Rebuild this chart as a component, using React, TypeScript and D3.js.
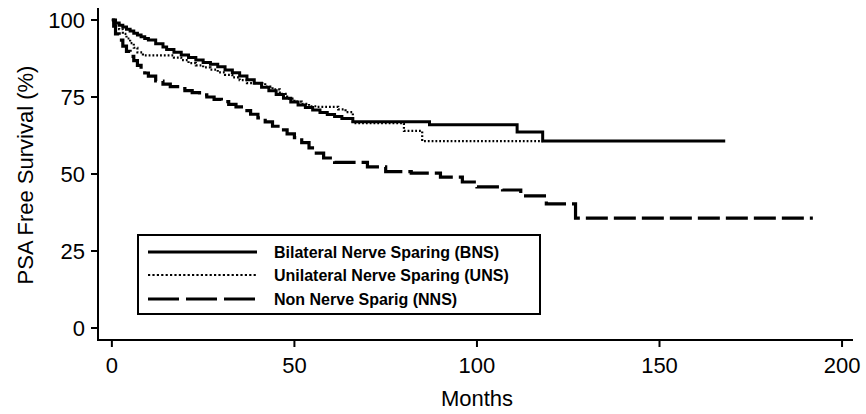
import React from 'react';
import * as d3 from 'd3';

// Kaplan-Meier step points (months, % free)
const bnsMonths = [0, 1, 2, 3, 4, 5, 6, 7, 8, 9, 10, 12, 14, 15, 17, 19, 21, 23, 25, 27, 29, 31, 33, 35, 37, 39, 41, 43, 45, 47, 49, 51, 53, 55, 57, 59, 61, 63, 66, 87, 111, 118];
const bnsValues = [100, 99, 98.3, 97.7, 97, 96.4, 95.7, 95.1, 94.6, 94, 93.5, 92.3, 91.2, 90.4, 89.5, 88.6, 87.8, 87, 86.2, 85.6, 84.8, 83.8, 82.9, 81.8, 80.6, 79.5, 78.2, 77, 75.8, 74.6, 73.4, 72.4, 71.6, 70.8, 70, 69.3, 68.7, 68, 67, 66, 63.6, 60.7];
const bnsEnd = 168;

const unsMonths = [0, 1, 2, 3, 4, 5, 6, 7, 8.5, 17, 19, 21, 23, 25, 27, 29, 31, 33, 35, 37, 42, 44, 46, 48, 50, 52, 54, 56, 62, 64, 66, 80, 85];
const unsValues = [100, 98.5, 97, 95.5, 94, 92.5, 91, 89.5, 88.5, 87.8, 87, 86, 85.3, 84.6, 83.9, 83, 82.2, 81.4, 80.5, 79.5, 78.4, 77.5, 76, 74.5, 73.5, 72.8, 72, 71.8, 71, 70.1, 66.5, 64, 60.7];
const unsEnd = 118;

const nnsMonths = [0, 0.5, 1, 2, 3, 4, 5, 6, 7, 8, 9, 10, 12, 14, 16, 18, 20, 22, 24, 26, 28, 30, 32, 34, 36, 38, 40, 42, 44, 46, 48, 50, 52, 54, 56, 58, 61, 70, 75, 82, 90, 96, 100, 107, 112, 119, 127];
const nnsValues = [100, 98, 95.5, 93.5, 91.5, 89.8, 88.2, 86.8, 85.3, 84, 82.8, 81.8, 80.2, 79.2, 78.4, 77.7, 77.1, 76.4, 75.7, 75, 74.2, 73.5, 72.6, 71.8, 70.6, 69.4, 68.2, 66.9, 65.5, 64.3, 63, 61.8, 60.2, 58.5, 56.8, 55.2, 53.8, 52.3, 50.8, 50.3, 49, 47.4, 45.8, 44.8, 42.9, 40.3, 35.7];
const nnsEnd = 192;

const xTicks = [0, 50, 100, 150, 200];
const yTicks = [0, 25, 50, 75, 100];

const legendLabels = ['Bilateral Nerve Sparing (BNS)', 'Unilateral Nerve Sparing (UNS)', 'Non Nerve Sparig (NNS)'];

const font = '"Liberation Sans", Arial, Helvetica, sans-serif';

const styles = [
  { width: 3, dash: null, legendDash: null },
  { width: 2.2, dash: '1.8 2', legendDash: '2.2 2.2' },
  { width: 3.2, dash: '22 6', legendDash: '31 7' },
];

export default function App() {
  const width = 866;
  const height = 414;

  const x = d3.scaleLinear().domain([-3.8, 203]).range([98, 853]);
  const y = d3.scaleLinear().domain([-3.9, 103.9]).range([340, 8]);

  const line = d3.line<[number, number]>()
    .x(d => x(d[0]))
    .y(d => y(d[1]))
    .curve(d3.curveStepAfter);

  const makePts = (ms: number[], vs: number[], end: number): [number, number][] => {
    const pts: [number, number][] = ms.map((m, i) => [m, vs[i]]);
    pts.push([end, vs[vs.length - 1]]);
    return pts;
  };

  const series = [
    makePts(bnsMonths, bnsValues, bnsEnd),
    makePts(unsMonths, unsValues, unsEnd),
    makePts(nnsMonths, nnsValues, nnsEnd),
  ];

  const legendTop = 235;
  const rowY = [252, 275, 299];

  return (
    <svg width={width} height={height} style={{ position: 'absolute', left: 0, top: 0, background: '#fff' }}
      fontFamily={font}>
      {/* axes */}
      <line x1={98} x2={98} y1={y(103.9)} y2={y(-3.9)} stroke="#000" strokeWidth={2} />
      <line x1={97} x2={853} y1={340} y2={340} stroke="#000" strokeWidth={2} />
      {yTicks.map(t => (
        <g key={'y' + t}>
          <line x1={91} x2={98} y1={y(t)} y2={y(t)} stroke="#000" strokeWidth={2} />
          <text x={85} y={y(t)} dy="0.36em" textAnchor="end" fontSize={22}>{t}</text>
        </g>
      ))}
      {xTicks.map(t => (
        <g key={'x' + t}>
          <line x1={x(t)} x2={x(t)} y1={340} y2={347} stroke="#000" strokeWidth={2} />
          <text x={x(t)} y={373} textAnchor="middle" fontSize={22}>{t}</text>
        </g>
      ))}
      <text x={x(100)} y={406} textAnchor="middle" fontSize={22}>Months</text>
      <text transform={`translate(33,${175}) rotate(-90)`} textAnchor="middle" fontSize={22}>PSA Free Survival (%)</text>

      {/* curves */}
      {series.map((pts, i) => (
        <path key={i} d={line(pts) || ''} fill="none" stroke="#000"
          strokeWidth={styles[i].width}
          strokeDasharray={styles[i].dash || undefined} />
      ))}

      {/* legend */}
      <rect x={138} y={legendTop} width={402} height={79} fill="#fff" stroke="#000" strokeWidth={2} />
      {legendLabels.map((lab, i) => (
        <g key={lab}>
          <line x1={148} x2={257} y1={rowY[i]} y2={rowY[i]} stroke="#000"
            strokeWidth={styles[i].width}
            strokeDasharray={styles[i].legendDash || undefined} />
          <text x={274} y={rowY[i]} dy="0.36em" fontSize={16} fontWeight="bold">{lab}</text>
        </g>
      ))}
    </svg>
  );
}
